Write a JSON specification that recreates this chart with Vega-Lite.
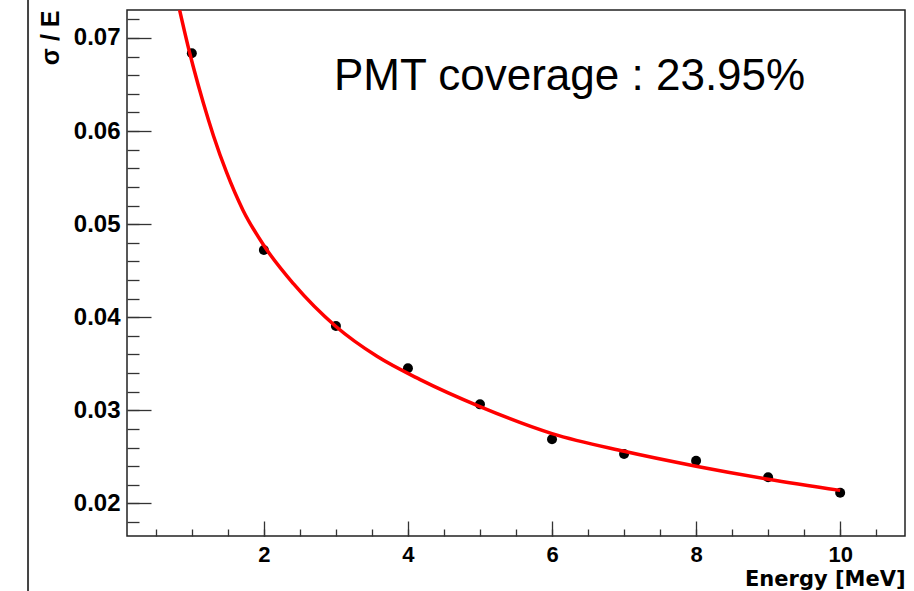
{
  "$schema": "https://vega.github.io/schema/vega-lite/v6.json",
  "width": 778,
  "height": 526,
  "autosize": {"type": "none"},
  "padding": {"left": 127, "top": 10, "right": 9, "bottom": 55},
  "background": "white",
  "config": {
    "view": {"stroke": "#222", "strokeWidth": 1.5},
    "axis": {
      "labelFont": "Liberation Sans",
      "labelFontWeight": "bold",
      "labelColor": "black",
      "titleFont": "Liberation Sans",
      "titleFontWeight": "bold",
      "titleColor": "black",
      "tickColor": "#333",
      "tickWidth": 1.3,
      "domain": false,
      "grid": false
    }
  },
  "datasets": {
    "points": [
      {"energy": 1, "resolution": 0.06835},
      {"energy": 2, "resolution": 0.04722},
      {"energy": 3, "resolution": 0.03906},
      {"energy": 4, "resolution": 0.03451},
      {"energy": 5, "resolution": 0.03064},
      {"energy": 6, "resolution": 0.02689},
      {"energy": 7, "resolution": 0.02531},
      {"energy": 8, "resolution": 0.02459},
      {"energy": 9, "resolution": 0.02281},
      {"energy": 10, "resolution": 0.02115}
    ],
    "fit": [
      {"energy": 0.83, "resolution": 0.0730},
      {"energy": 0.97, "resolution": 0.0684},
      {"energy": 1.02, "resolution": 0.0669},
      {"energy": 1.16, "resolution": 0.0630},
      {"energy": 1.30, "resolution": 0.0595},
      {"energy": 1.48, "resolution": 0.0556},
      {"energy": 1.71, "resolution": 0.0515},
      {"energy": 2.0, "resolution": 0.0477},
      {"energy": 2.41, "resolution": 0.0436},
      {"energy": 3.0, "resolution": 0.0390},
      {"energy": 3.57, "resolution": 0.0358},
      {"energy": 4.17, "resolution": 0.0333},
      {"energy": 5.0, "resolution": 0.0304},
      {"energy": 6.0, "resolution": 0.0275},
      {"energy": 7.0, "resolution": 0.0256},
      {"energy": 8.0, "resolution": 0.0240},
      {"energy": 9.0, "resolution": 0.0226},
      {"energy": 10.0, "resolution": 0.0214}
    ],
    "single": [{}]
  },
  "layer": [
    {
      "data": {"name": "points"},
      "mark": {"type": "circle", "color": "black", "opacity": 1, "size": 100},
      "encoding": {
        "x": {
          "field": "energy", "type": "quantitative",
          "scale": {"domain": [0.1, 10.9], "nice": false, "zero": false},
          "axis": {
            "orient": "bottom",
            "values": [2, 4, 6, 8, 10],
            "format": "d",
            "tickSize": -15,
            "labelPadding": 23,
            "labelFontSize": 22,
            "labelFlush": false,
            "title": "Energy [MeV]",
            "titleFont": "DejaVu Sans",
            "titleFontSize": 21,
            "titleAnchor": "end",
            "titlePadding": 3
          }
        },
        "y": {
          "field": "resolution", "type": "quantitative",
          "scale": {"domain": [0.0165, 0.073], "nice": false, "zero": false},
          "axis": {
            "orient": "left",
            "values": [0.02, 0.03, 0.04, 0.05, 0.06, 0.07],
            "format": ".2f",
            "tickSize": -24,
            "labelPadding": 31,
            "labelFontSize": 24,
            "labelFlush": false,
            "title": "σ / E",
            "titleFontSize": 25,
            "titleAnchor": "end",
            "titlePadding": 10
          }
        }
      }
    },
    {
      "data": {"name": "fit"},
      "mark": {"type": "line", "color": "#ff0000", "strokeWidth": 3.5, "interpolate": "monotone", "clip": true},
      "encoding": {
        "x": {
          "field": "energy", "type": "quantitative",
          "axis": {
            "orient": "bottom",
            "values": [0.5, 1, 1.5, 2, 2.5, 3, 3.5, 4, 4.5, 5, 5.5, 6, 6.5, 7, 7.5, 8, 8.5, 9, 9.5, 10, 10.5],
            "tickSize": -7,
            "labels": false,
            "title": null
          }
        },
        "y": {
          "field": "resolution", "type": "quantitative",
          "axis": {
            "orient": "left",
            "values": [0.018, 0.02, 0.022, 0.024, 0.026, 0.028, 0.03, 0.032, 0.034, 0.036, 0.038, 0.04, 0.042, 0.044, 0.046, 0.048, 0.05, 0.052, 0.054, 0.056, 0.058, 0.06, 0.062, 0.064, 0.066, 0.068, 0.07, 0.072],
            "tickSize": -12,
            "labels": false,
            "title": null
          }
        }
      }
    },
    {
      "data": {"name": "single"},
      "mark": {"type": "rule", "color": "#444", "strokeWidth": 2, "clip": false},
      "encoding": {
        "x": {"datum": -1.274, "type": "quantitative", "axis": null},
        "y": {"datum": 0.07407, "type": "quantitative", "axis": null},
        "y2": {"datum": 0.01059}
      }
    },
    {
      "data": {"name": "single"},
      "mark": {"type": "text", "font": "Liberation Sans", "fontSize": 44, "align": "left", "baseline": "alphabetic", "color": "black"},
      "encoding": {
        "x": {"datum": 2.973, "type": "quantitative", "axis": null},
        "y": {"datum": 0.0644, "type": "quantitative", "axis": null},
        "text": {"value": "PMT coverage : 23.95%"}
      }
    }
  ],
  "resolve": {"axis": {"x": "independent", "y": "independent"}}
}
